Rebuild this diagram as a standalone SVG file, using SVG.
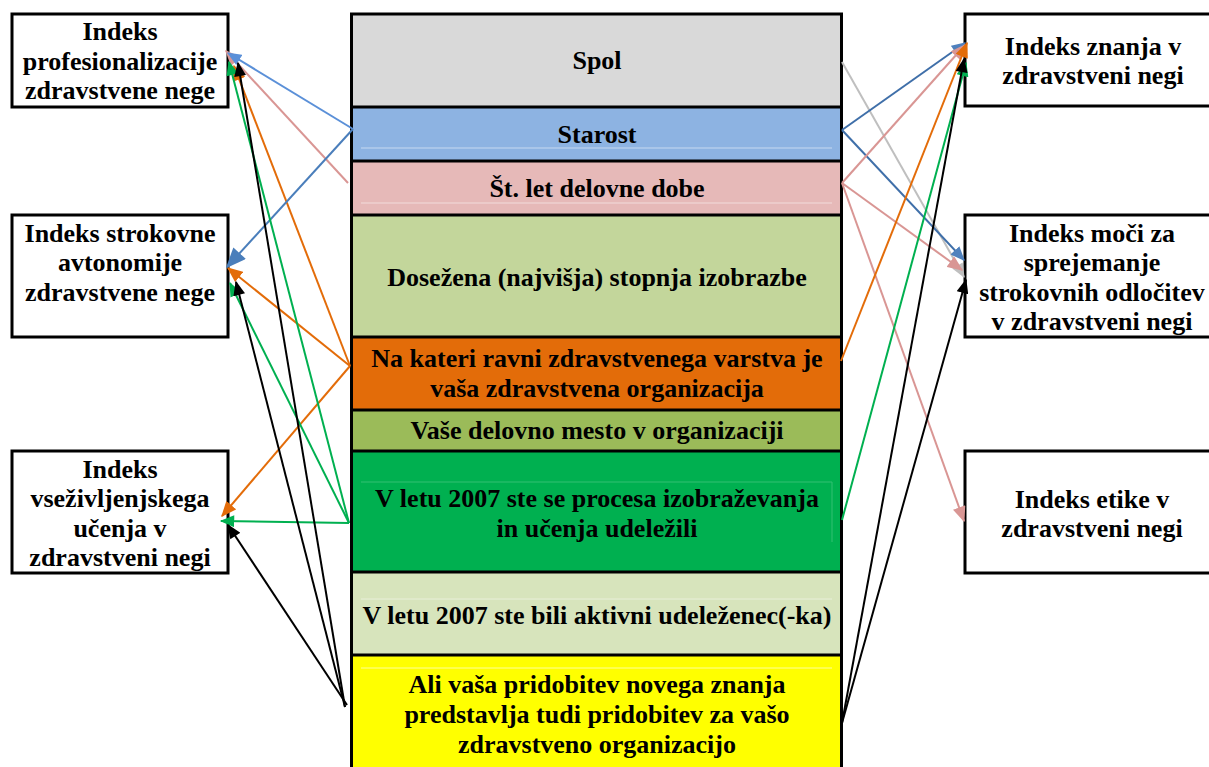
<svg xmlns="http://www.w3.org/2000/svg" width="1209" height="767" viewBox="0 0 1209 767">
  <style>
    .box { fill: #ffffff; stroke: #000000; stroke-width: 3; }
    .t { font-family: "Liberation Serif", "Times New Roman", "DejaVu Serif", serif; font-weight: bold; font-size: 26px; fill: #000000; text-anchor: middle; }
    .sep { stroke: #000000; stroke-width: 3; }
    .faint { stroke-width: 1; fill: none; }
    .c { fill: none; stroke-width: 2; }
  </style>
  <defs>
    <marker id="ah-black" viewBox="0 0 12 10" refX="11" refY="5" markerWidth="15" markerHeight="12" markerUnits="userSpaceOnUse" orient="auto"><path d="M0,0 L12,5 L0,10 z" fill="#000000"/></marker>
    <marker id="ah-green" viewBox="0 0 12 10" refX="11" refY="5" markerWidth="15" markerHeight="12" markerUnits="userSpaceOnUse" orient="auto"><path d="M0,0 L12,5 L0,10 z" fill="#00b050"/></marker>
    <marker id="ah-orange" viewBox="0 0 12 10" refX="11" refY="5" markerWidth="16" markerHeight="13" markerUnits="userSpaceOnUse" orient="auto"><path d="M0,0 L12,5 L0,10 z" fill="#e36c09"/></marker>
    <marker id="ah-pink" viewBox="0 0 12 10" refX="11" refY="5" markerWidth="16" markerHeight="13" markerUnits="userSpaceOnUse" orient="auto"><path d="M0,0 L12,5 L0,10 z" fill="#d99694"/></marker>
    <marker id="ah-grey" viewBox="0 0 12 10" refX="11" refY="5" markerWidth="15" markerHeight="12" markerUnits="userSpaceOnUse" orient="auto"><path d="M0,0 L12,5 L0,10 z" fill="#bfbfbf"/></marker>
    <marker id="ah-blue" viewBox="0 0 12 10" refX="11" refY="5" markerWidth="15" markerHeight="12" markerUnits="userSpaceOnUse" orient="auto"><path d="M0,0 L12,5 L0,10 z" fill="#4f81bd"/></marker>
    <marker id="ah-blue-lt" viewBox="0 0 12 10" refX="11" refY="5" markerWidth="15" markerHeight="12" markerUnits="userSpaceOnUse" orient="auto"><path d="M0,0 L12,5 L0,10 z" fill="#5b90d8"/></marker>
    <marker id="ah-blue-big" viewBox="0 0 12 10" refX="11" refY="5" markerWidth="21" markerHeight="17" markerUnits="userSpaceOnUse" orient="auto"><path d="M0,0 L12,5 L0,10 z" fill="#4a7ebb"/></marker>
  </defs>

  <!-- central column of survey variables -->
  <g id="variables">
    <g id="v-spol">
      <rect x="351.5" y="14" width="490" height="93" fill="#d9d9d9"/>
      <text class="t" x="597" y="69">Spol</text>
    </g>
    <g id="v-starost">
      <rect x="351.5" y="107" width="490" height="54" fill="#8db3e2"/>
      <line class="faint" x1="361" y1="148" x2="832" y2="148" stroke="#c6d9f1"/>
      <text class="t" x="597" y="143">Starost</text>
    </g>
    <g id="v-delovna-doba">
      <rect x="351.5" y="161" width="490" height="54" fill="#e6b9b8"/>
      <line class="faint" x1="361" y1="203" x2="832" y2="203" stroke="#f2dcdb"/>
      <text class="t" x="597" y="197">Št. let delovne dobe</text>
    </g>
    <g id="v-izobrazba">
      <rect x="351.5" y="215" width="490" height="122" fill="#c3d69b"/>
      <text class="t" x="597" y="286">Dosežena (najvišja) stopnja izobrazbe</text>
    </g>
    <g id="v-raven">
      <rect x="351.5" y="337" width="490" height="73" fill="#e36c09"/>
      <text class="t" x="597" y="367">Na kateri ravni zdravstvenega varstva je</text>
      <text class="t" x="597" y="397">vaša zdravstvena organizacija</text>
    </g>
    <g id="v-delovno-mesto">
      <rect x="351.5" y="410" width="490" height="41" fill="#9bbb59"/>
      <text class="t" x="597" y="439">Vaše delovno mesto v organizaciji</text>
    </g>
    <g id="v-izobrazevanje">
      <rect x="351.5" y="451" width="490" height="121" fill="#00b050"/>
      <line class="faint" x1="361" y1="482" x2="832" y2="482" stroke="#33c073"/>
      <line class="faint" x1="832" y1="482" x2="832" y2="542" stroke="#33c073"/>
      <text class="t" x="597" y="507">V letu 2007 ste se procesa izobraževanja</text>
      <text class="t" x="597" y="537">in učenja udeležili</text>
    </g>
    <g id="v-aktivni">
      <rect x="351.5" y="572" width="490" height="83" fill="#d7e4bc"/>
      <line class="faint" x1="361" y1="599" x2="832" y2="599" stroke="#e8efd9"/>
      <text class="t" x="597" y="624">V letu 2007 ste bili aktivni udeleženec(-ka)</text>
    </g>
    <g id="v-pridobitev">
      <rect x="351.5" y="655" width="490" height="120" fill="#ffff00"/>
      <line class="faint" x1="361" y1="668" x2="832" y2="668" stroke="#ffff99"/>
      <text class="t" x="597" y="693">Ali vaša pridobitev novega znanja</text>
      <text class="t" x="597" y="723">predstavlja tudi pridobitev za vašo</text>
      <text class="t" x="597" y="753">zdravstveno organizacijo</text>
    </g>
    <!-- column frame and row separators -->
    <rect x="351.5" y="14" width="490" height="770" fill="none" stroke="#000000" stroke-width="3"/>
    <line class="sep" x1="351.5" y1="107" x2="841.5" y2="107"/>
    <line class="sep" x1="351.5" y1="161" x2="841.5" y2="161"/>
    <line class="sep" x1="351.5" y1="215" x2="841.5" y2="215"/>
    <line class="sep" x1="351.5" y1="337" x2="841.5" y2="337"/>
    <line class="sep" x1="351.5" y1="410" x2="841.5" y2="410"/>
    <line class="sep" x1="351.5" y1="451" x2="841.5" y2="451"/>
    <line class="sep" x1="351.5" y1="572" x2="841.5" y2="572"/>
    <line class="sep" x1="351.5" y1="655" x2="841.5" y2="655"/>
  </g>

  <!-- index boxes, left -->
  <g id="idx-profesionalizacija">
    <rect class="box" x="12" y="14" width="216" height="93"/>
    <text class="t" x="120" y="40">Indeks</text>
    <text class="t" x="120" y="70">profesionalizacije</text>
    <text class="t" x="120" y="99">zdravstvene nege</text>
  </g>
  <g id="idx-avtonomija">
    <rect class="box" x="12" y="215" width="216" height="122"/>
    <text class="t" x="120" y="242">Indeks strokovne</text>
    <text class="t" x="120" y="271">avtonomije</text>
    <text class="t" x="120" y="301">zdravstvene nege</text>
  </g>
  <g id="idx-vsezivljenjsko">
    <rect class="box" x="12" y="451" width="216" height="122"/>
    <text class="t" x="120" y="478">Indeks</text>
    <text class="t" x="120" y="507">vseživljenjskega</text>
    <text class="t" x="120" y="537">učenja v</text>
    <text class="t" x="120" y="566">zdravstveni negi</text>
  </g>

  <!-- index boxes, right -->
  <g id="idx-znanje">
    <rect class="box" x="965" y="14" width="260" height="92"/>
    <text class="t" x="1093" y="55">Indeks znanja v</text>
    <text class="t" x="1093" y="84">zdravstveni negi</text>
  </g>
  <g id="idx-moc">
    <rect class="box" x="965" y="215" width="260" height="122"/>
    <text class="t" x="1092" y="242">Indeks moči za</text>
    <text class="t" x="1092" y="271">sprejemanje</text>
    <text class="t" x="1092" y="301">strokovnih odločitev</text>
    <text class="t" x="1092" y="330">v zdravstveni negi</text>
  </g>
  <g id="idx-etika">
    <rect class="box" x="965" y="451" width="260" height="122"/>
    <text class="t" x="1092" y="508">Indeks etike v</text>
    <text class="t" x="1092" y="537">zdravstveni negi</text>
  </g>

  <!-- connectors -->
  <g id="connectors">
    <!-- left side -->
    <line class="c" x1="348" y1="183" x2="226" y2="51" stroke="#d99694" marker-end="url(#ah-pink)"/>
    <line class="c" x1="353" y1="129" x2="228" y2="53" stroke="#5b90d8" marker-end="url(#ah-blue-lt)"/>
    <line class="c" x1="350" y1="366" x2="234" y2="66" stroke="#e36c09" marker-end="url(#ah-orange)"/>
    <line class="c" x1="350" y1="366" x2="228" y2="268" stroke="#e36c09" marker-end="url(#ah-orange)"/>
    <line class="c" x1="350" y1="366" x2="222" y2="516" stroke="#e36c09" marker-end="url(#ah-orange)"/>
    <line class="c" x1="353" y1="129" x2="227" y2="267" stroke="#4a7ebb" marker-end="url(#ah-blue-big)"/>
    <line class="c" x1="349" y1="523" x2="229" y2="62" stroke="#00b050" marker-end="url(#ah-green)"/>
    <line class="c" x1="349" y1="523" x2="230" y2="283" stroke="#00b050" marker-end="url(#ah-green)"/>
    <line class="c" x1="349" y1="523" x2="221" y2="521" stroke="#00b050" marker-end="url(#ah-green)"/>
    <line class="c" x1="345" y1="707" x2="238" y2="63" stroke="#000000" marker-end="url(#ah-black)"/>
    <line class="c" x1="345" y1="707" x2="236" y2="282" stroke="#000000" marker-end="url(#ah-black)"/>
    <line class="c" x1="347" y1="705" x2="228" y2="525" stroke="#000000" marker-end="url(#ah-black)"/>
    <!-- right side -->
    <line class="c" x1="842" y1="62" x2="964" y2="277" stroke="#bfbfbf" marker-end="url(#ah-grey)"/>
    <line class="c" x1="842" y1="130" x2="965" y2="43" stroke="#3f6fa9" marker-end="url(#ah-blue)"/>
    <line class="c" x1="842" y1="130" x2="964" y2="260" stroke="#3f6fa9" marker-end="url(#ah-blue)"/>
    <line class="c" x1="842" y1="183" x2="965" y2="45" stroke="#d99694" marker-end="url(#ah-pink)"/>
    <line class="c" x1="842" y1="183" x2="962" y2="270" stroke="#d99694" marker-end="url(#ah-pink)"/>
    <line class="c" x1="842" y1="183" x2="964" y2="521" stroke="#d99694" marker-end="url(#ah-pink)"/>
    <line class="c" x1="841" y1="361" x2="967" y2="43" stroke="#e36c09" marker-end="url(#ah-orange)"/>
    <line class="c" x1="842" y1="520" x2="966" y2="63" stroke="#00b050" marker-end="url(#ah-green)"/>
    <line class="c" x1="842" y1="723" x2="964" y2="59" stroke="#000000" marker-end="url(#ah-black)"/>
    <line class="c" x1="842" y1="723" x2="966" y2="280" stroke="#000000" marker-end="url(#ah-black)"/>
  </g>
</svg>
